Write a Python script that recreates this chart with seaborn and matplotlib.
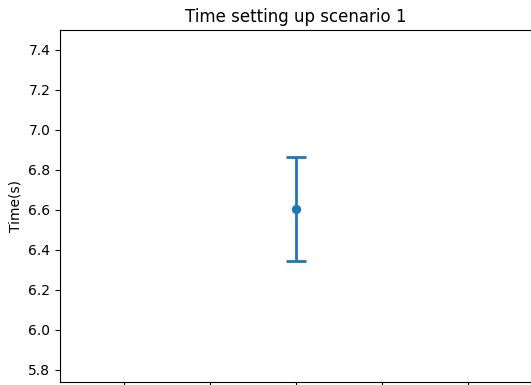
import matplotlib
matplotlib.use("Agg")
import matplotlib.pyplot as plt
import seaborn as sns
import pandas as pd

# Scenario timing summary: mean and half-width of the error bar
scenarios = ["scenario 1"]
mean_time = [6.605]
err_time = [0.26]
x_pos = [0.0]

sns.set_style("ticks")
plt.rcParams["font.family"] = ["DejaVu Sans"]
plt.rcParams["text.color"] = "black"
plt.rcParams["axes.labelcolor"] = "black"
plt.rcParams["xtick.color"] = "black"
plt.rcParams["ytick.color"] = "black"

df = pd.DataFrame({"x": x_pos, "time": mean_time, "err": err_time, "scenario": scenarios})

fig = plt.figure(figsize=(5.31, 3.85), dpi=100)
ax = fig.add_axes([60 / 531, 3 / 385, 472 / 531, 352 / 385])

color = "#1f77b4"
ax.errorbar(df["x"], df["time"], yerr=df["err"], fmt="none",
            ecolor=color, elinewidth=2, capsize=7, capthick=2)
sns.scatterplot(data=df, x="x", y="time", ax=ax, color=color,
                s=45, edgecolor=color, linewidth=0, legend=False, zorder=3)

ax.set_xlim(-0.055, 0.055)
ax.set_xticks([-0.04, -0.02, 0.0, 0.02, 0.04])
ax.set_xticklabels([])
ax.set_ylim(5.74, 7.5)
ax.set_yticks([5.8, 6.0, 6.2, 6.4, 6.6, 6.8, 7.0, 7.2, 7.4])
ax.set_yticklabels([f"{v:.1f}" for v in ax.get_yticks()], fontsize=10)
ax.set_xlabel("")
ax.set_ylabel("Time(s)", fontsize=10)
ax.set_title("Time setting up scenario 1", fontsize=12)
for s in ax.spines.values():
    s.set_visible(True)
    s.set_color("black")
    s.set_linewidth(0.8)
ax.tick_params(axis="both", colors="black", length=3.5, width=0.8, direction="out")

fig.savefig("out.png", dpi=100)
